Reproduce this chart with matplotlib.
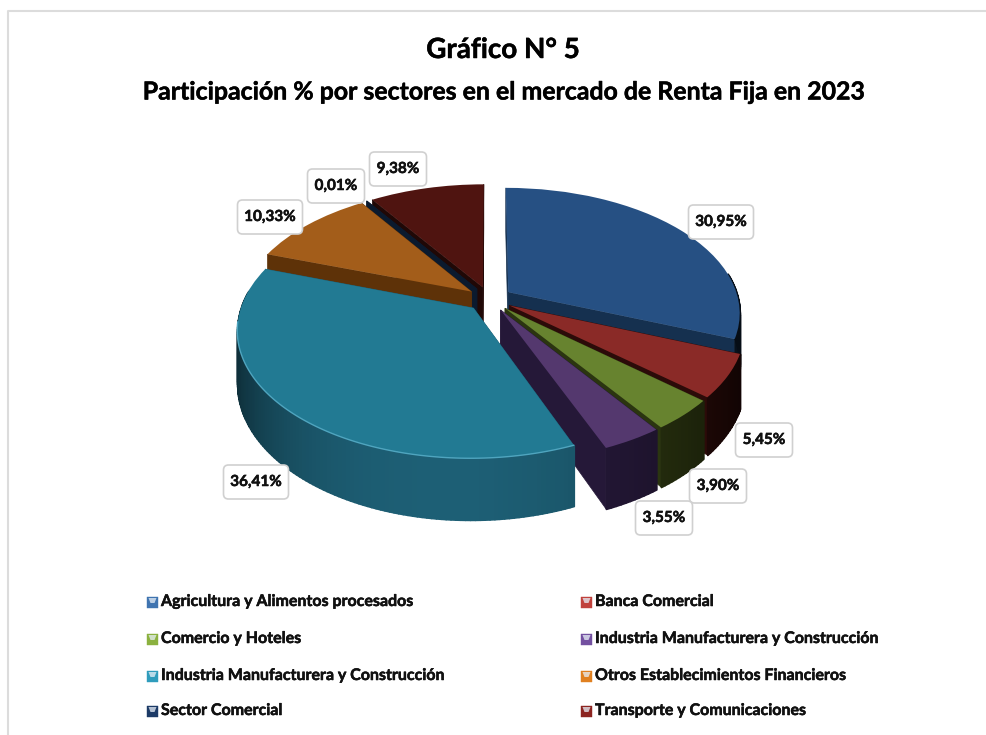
# Grafico N 5: pie 3D con perspectiva, participacion por sectores
import numpy as np
import matplotlib
matplotlib.use('Agg')
import matplotlib.pyplot as plt
import matplotlib.patheffects as pe
from matplotlib.collections import PolyCollection
from matplotlib.patches import FancyBboxPatch, Polygon, Rectangle
from matplotlib.transforms import Transform

plt.rcParams['font.family'] = ['Lato', 'DejaVu Sans']
plt.rcParams['font.weight'] = 'bold'

sectores = ['Agricultura y Alimentos procesados', 'Banca Comercial', 'Comercio y Hoteles',
            'Industria Manufacturera y Construcción', 'Industria Manufacturera y Construcción',
            'Otros Establecimientos Financieros', 'Sector Comercial', 'Transporte y Comunicaciones']
participacion = [30.95, 5.45, 3.90, 3.55, 36.41, 10.33, 0.01, 9.38]

color_top = ['#265083', '#8a2a27', '#67832f', '#54386e', '#227a93', '#a35d1a', '#0f2340', '#4f1410']
color_wall = ['#15304f', '#2c0b09', '#2b3510', '#251838', '#1d5f75', '#5e3208', '#0b1a2e', '#200806']
color_legend = ['#3f74b0', '#c0413c', '#8bb13f', '#7350a0', '#2f9cbc', '#e08020', '#1c3a66', '#8c2420']

# orden de dibujo, de atras hacia adelante
orden = [7, 6, 5, 0, 1, 2, 3, 4]

# posicion de las etiquetas en pixeles (centro x, centro y)
etiquetas_xy = [(721, 222), (764, 440), (718, 486), (664, 518), (256, 482), (270, 217), (336, 186), (398, 169)]

CX, CY = 489.5, 299
R, G, K, DEPTH = 230, 123, 0.16, 51

negrita = [pe.withStroke(linewidth=0.35, foreground='black')]


def proyectar(u, v, z=0.0):
    w = 1 + K * v
    return CX + R * u / w, CY - G * v / w + DEPTH * z / w


class Perspectiva(Transform):
    input_dims = 2
    output_dims = 2

    def transform_non_affine(self, values):
        x, y = proyectar(values[:, 0], values[:, 1])
        return np.column_stack([x, y])


fig = plt.figure(figsize=(9.87, 7.35), dpi=100)
ax = fig.add_axes([0, 0, 1, 1])
wedges, _ = ax.pie(participacion, explode=[0.1] * 8, colors=color_top, startangle=90,
                   counterclock=False, radius=1)
ax.set_aspect('auto')
ax.set_xlim(0, 987)
ax.set_ylim(735, 0)
ax.axis('off')

persp = Perspectiva() + ax.transData
z = 2
for i in orden:
    w = wedges[i]
    cu, cv = w.center
    t = np.radians(np.linspace(w.theta1, w.theta2, max(4, int(w.theta2 - w.theta1))))
    us = cu + np.cos(t)
    vs = cv + np.sin(t)

    # caras radiales
    for a in (t[0], t[-1]):
        ue, ve = cu + np.cos(a), cv + np.sin(a)
        p = [proyectar(cu, cv), proyectar(ue, ve), proyectar(ue, ve, 1), proyectar(cu, cv, 1)]
        ax.add_patch(Polygon(p, closed=True, fc=color_wall[i], ec=color_wall[i], lw=0.5, zorder=z))
    z += 1

    # pared exterior, solo la parte que mira al frente, sombreada segun el angulo
    base = np.array(matplotlib.colors.to_rgb(color_wall[i]))
    for k in range(len(t) - 1):
        if np.sin(t[k]) > 0.15:
            continue
        quad = [proyectar(us[k], vs[k]), proyectar(us[k + 1], vs[k + 1]),
                proyectar(us[k + 1], vs[k + 1], 1), proyectar(us[k], vs[k], 1)]
        um = np.cos(t[k])
        col = base * (1 - 0.55 * abs(um) ** 3 - 0.18 * max(um, 0))
        ax.add_collection(PolyCollection([quad], facecolors=[col], edgecolors=[col], linewidths=1.3, zorder=z))
        z += 0.001
    z = int(z) + 1

    w.set_transform(persp)
    w.set_zorder(z)
    z += 1

    if i == 4:
        # brillo en el borde delantero
        front = t[np.sin(t) < -0.1]
        x, y = proyectar(cu + np.cos(front), cv + np.sin(front))
        ax.plot(x, y, color='#4fa5bf', lw=1.0, zorder=z)
        z += 1

# etiquetas de datos
for s, (x, y) in zip(participacion, etiquetas_xy):
    txt = f'{s:.2f}'.replace('.', ',') + '%'
    ancho = 65 if len(txt) > 5 else 57
    ax.add_patch(FancyBboxPatch((x - ancho / 2 + 4, y - 13), ancho - 8, 26, boxstyle='round,pad=4,rounding_size=5',
                                fc='white', ec='#d0d0d0', lw=1.2, zorder=50))
    ax.text(x, y, txt, ha='center', va='center', fontsize=11, color='#111111', zorder=51, path_effects=negrita)

# titulos
ax.text(503, 50, 'Gráfico N° 5', ha='center', va='center', fontsize=20, color='black', path_effects=negrita)
ax.text(504, 92, 'Participación % por sectores en el mercado de Renta Fija en 2023',
        ha='center', va='center', fontsize=17.9, color='black', path_effects=negrita)

# leyenda en dos columnas
filas_y = [602, 639, 676, 711]
for n, (nombre, col) in enumerate(zip(sectores, color_legend)):
    x0 = 147 if n % 2 == 0 else 581
    y0 = filas_y[n // 2]
    ax.add_patch(Rectangle((x0, y0 - 5.5), 11, 11, fc=col, ec=col, lw=0.3, zorder=10))
    ax.add_patch(Polygon([(x0 + 1.5, y0 - 4), (x0 + 9.5, y0 - 4), (x0 + 7.5, y0 + 1), (x0 + 3.5, y0 + 1)],
                         closed=True, fc='#e8f0f8', ec='none', alpha=0.75, zorder=11))
    ax.text(x0 + 14, y0, nombre, ha='left', va='center', fontsize=11.5, color='#111111', path_effects=negrita)

# marco del grafico
ax.plot([7.5, 7.5, 987], [735, 11, 11], color='#dcdcdc', lw=1.5, zorder=1)

fig.savefig('out.png', dpi=100, facecolor='white')
